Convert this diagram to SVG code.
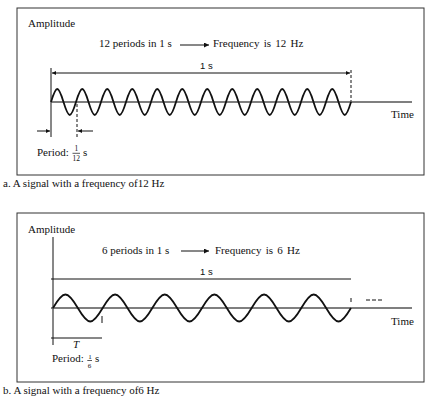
<svg xmlns="http://www.w3.org/2000/svg" width="439" height="406" viewBox="0 0 439 406">
<style>
text{font-family:"Liberation Serif","Times New Roman",serif;font-size:11px;fill:#111}
.sans{font-family:"Liberation Sans",Arial,sans-serif;font-size:9.5px}
.frac{font-size:7.5px}
.frac2{font-size:7px}
.frame{fill:none;stroke:#333;stroke-width:1}
.ln{stroke:#111;stroke-width:1;fill:none}
.axis{stroke:#555;stroke-width:1.3;fill:none}
.wave{stroke:#111;stroke-width:1.8;fill:none}
.dash{stroke:#111;stroke-width:1;stroke-dasharray:3,2;fill:none}
</style>
<defs>
<marker id="ah" viewBox="0 0 10 10" refX="10" refY="5" markerWidth="8" markerHeight="5" orient="auto" markerUnits="userSpaceOnUse">
<path d="M0,0 L10,5 L0,10 z" fill="#111"/>
</marker>
<marker id="ahs" viewBox="0 0 10 10" refX="10" refY="5" markerWidth="5" markerHeight="4" orient="auto" markerUnits="userSpaceOnUse">
<path d="M0,0 L10,5 L0,10 z" fill="#111"/>
</marker>
</defs>
<rect width="439" height="406" fill="#fff"/>

<g id="panelA">
<rect class="frame" x="17" y="8" width="407" height="167"/>
<text x="28" y="27">Amplitude</text>
<text x="99" y="47">12 periods in 1 s</text>
<text x="213" y="47" word-spacing="1.5">Frequency is 12 Hz</text>
<text class="sans" x="200" y="69">1 s</text>
<text x="391" y="118">Time</text>
<text x="37" y="156" font-size="11.5">Period:</text>
<text class="frac" x="74.5" y="151">1</text>
<text class="frac" x="72.5" y="161">12</text>
<line x1="72.5" y1="153.3" x2="80" y2="153.3" stroke="#111" stroke-width="0.7"/>
<text x="83" y="156">s</text>
<text x="3" y="187">a. A signal with a frequency of12 Hz</text>
</g>

<g id="panelB">
<rect class="frame" x="17" y="213" width="407" height="169"/>
<text x="28" y="233">Amplitude</text>
<text x="102" y="254">6 periods in 1 s</text>
<text x="215" y="254" word-spacing="1.5">Frequency is 6 Hz</text>
<text class="sans" x="200" y="275">1 s</text>
<text x="391" y="325">Time</text>
<text x="73" y="348" font-style="italic">T</text>
<text x="52" y="362" font-size="11.5">Period:</text>
<text class="frac2" x="88.3" y="358.5">1</text>
<text class="frac2" x="87.8" y="368">6</text>
<line x1="87.3" y1="360.5" x2="92" y2="360.5" stroke="#111" stroke-width="0.7"/>
<text x="95" y="362">s</text>
<text x="3" y="394">b. A signal with a frequency of6 Hz</text>
</g>

<g id="connectors">
<!-- panel A -->
<line class="ln" x1="180" y1="45" x2="209" y2="45" marker-end="url(#ah)"/>
<line class="ln" x1="56" y1="73" x2="52" y2="73" marker-end="url(#ahs)"/>
<line class="ln" x1="56" y1="73" x2="350" y2="73" marker-end="url(#ahs)"/>
<line class="ln" x1="51" y1="68" x2="51" y2="137"/>
<line class="dash" x1="351" y1="70" x2="351" y2="103"/>
<line class="axis" x1="51" y1="102" x2="412" y2="102"/>
<path class="wave" d="M51,102 c5.305,-17.33 7.195,-17.33 12.5,0 s7.195,17.33 12.5,0 s7.195,-17.33 12.5,0 s7.195,17.33 12.5,0 s7.195,-17.33 12.5,0 s7.195,17.33 12.5,0 s7.195,-17.33 12.5,0 s7.195,17.33 12.5,0 s7.195,-17.33 12.5,0 s7.195,17.33 12.5,0 s7.195,-17.33 12.5,0 s7.195,17.33 12.5,0 s7.195,-17.33 12.5,0 s7.195,17.33 12.5,0 s7.195,-17.33 12.5,0 s7.195,17.33 12.5,0 s7.195,-17.33 12.5,0 s7.195,17.33 12.5,0 s7.195,-17.33 12.5,0 s7.195,17.33 12.5,0 s7.195,-17.33 12.5,0 s7.195,17.33 12.5,0 s7.195,-17.33 12.5,0 s7.195,17.33 12.5,0"/>
<line class="dash" x1="77" y1="104" x2="77" y2="137"/>
<line class="ln" x1="37" y1="131" x2="50" y2="131" marker-end="url(#ahs)"/>
<line class="ln" x1="93" y1="131" x2="78" y2="131" marker-end="url(#ahs)"/>
<!-- panel B -->
<line class="ln" x1="181" y1="251" x2="209" y2="251" marker-end="url(#ah)"/>
<line class="ln" x1="51" y1="279" x2="351" y2="279"/>
<line class="ln" x1="53" y1="237" x2="53" y2="345"/>
<line class="axis" x1="51" y1="308" x2="412" y2="308"/>
<path class="wave" d="M53,308 c10.54,-18 14.29,-18 24.83,0 s14.29,18 24.83,0 s14.29,-18 24.83,0 s14.29,18 24.83,0 s14.29,-18 24.83,0 s14.29,18 24.83,0 s14.29,-18 24.83,0 s14.29,18 24.83,0 s14.29,-18 24.83,0 s14.29,18 24.83,0 s14.29,-18 24.83,0 s14.29,18 24.83,0"/>
<line class="ln" x1="102" y1="316" x2="102" y2="323"/>
<line class="ln" x1="351" y1="298" x2="351" y2="302"/>
<line class="ln" x1="51" y1="338" x2="102" y2="338"/>
<line class="ln" stroke-width="1.3" stroke-dasharray="4,2" x1="366" y1="300" x2="382" y2="300"/>
</g>
</svg>
